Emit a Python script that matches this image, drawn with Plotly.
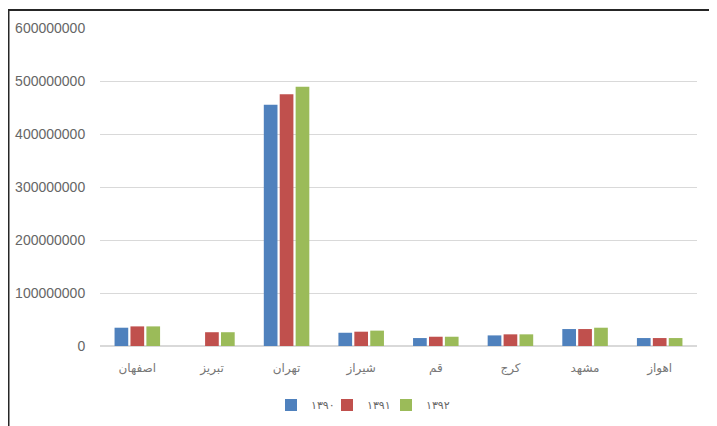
import plotly.graph_objects as go

cities = ["اصفهان", "تبریز", "تهران", "شیراز", "قم", "کرج", "مشهد", "اهواز"]
series_names = ["۱۳۹۰", "۱۳۹۱", "۱۳۹۲"]
v1390 = [34500000, None, 455000000, 25000000, 15000000, 20000000, 32000000, 15000000]
v1391 = [37000000, 26000000, 475000000, 27000000, 17500000, 22000000, 32000000, 15000000]
v1392 = [37000000, 26000000, 489000000, 29000000, 17500000, 22000000, 34500000, 15000000]
colors = ["#4f81bd", "#c0504d", "#9bbb59"]
tick_vals = [0, 100000000, 200000000, 300000000, 400000000, 500000000, 600000000]
tick_text = ["0", "100000000", "200000000", "300000000", "400000000", "500000000", "600000000"]

W, H = 717, 426
L, R, T, B = 92, 28, 20, 88
pw, ph = W - L - R, H - T - B
bx = (0 - L) / pw
by = (H - B - 2) / ph

legend_ids = ["legend", "legend2", "legend3"]
legend_px = [263, 319, 378]

fig = go.Figure()
for name, vals, c, lid in zip(series_names, [v1390, v1391, v1392], colors, legend_ids):
    fig.add_trace(go.Bar(x=cities, y=vals, name=name, legend=lid,
                         marker=dict(color=c, line=dict(width=0))))

leg_y = (H - B - 397) / ph
legends = {}
for lid, px in zip(legend_ids, legend_px):
    legends[lid] = dict(orientation="h", x=(px - L) / pw, xanchor="left", y=leg_y, yanchor="middle",
                        font=dict(size=11, color="#666666"), bgcolor="rgba(0,0,0,0)", itemwidth=30)

fig.update_layout(
    width=W, height=H,
    margin=dict(l=L, r=R, t=T, b=B, autoexpand=False),
    paper_bgcolor="white", plot_bgcolor="white",
    barmode="group", bargap=0.36, bargroupgap=0.14,
    font=dict(family="Liberation Sans, DejaVu Sans", color="#666666", size=12),
    showlegend=True,
    xaxis=dict(showgrid=False, showline=False, ticks="outside", ticklen=11, tickcolor="rgba(0,0,0,0)",
               tickfont=dict(size=12, color="#777777", family="DejaVu Sans")),
    yaxis=dict(range=[0, 600000000], tickvals=tick_vals, ticktext=tick_text, showgrid=True,
               gridcolor="#d9d9d9", zeroline=True, zerolinecolor="#d9d9d9", showline=False,
               ticks="outside", ticklen=11, tickcolor="rgba(0,0,0,0)",
               tickfont=dict(size=14, color="#666666")),
    shapes=[
        dict(type="line", xref="paper", yref="paper", x0=bx, x1=bx, y0=-0.5, y1=by,
             line=dict(color="#262626", width=3)),
        dict(type="line", xref="paper", yref="paper", x0=bx, x1=1.2, y0=by, y1=by,
             line=dict(color="#262626", width=2)),
    ],
    **legends,
)
fig.write_html("out.html")
